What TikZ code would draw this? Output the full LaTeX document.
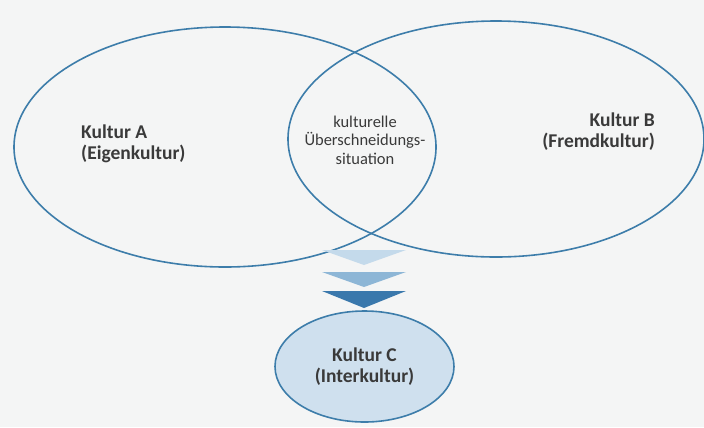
\documentclass[tikz,border=0pt]{standalone}
\usepackage{fontspec}
\setmainfont{Carlito}
\usetikzlibrary{shapes.geometric}

\definecolor{paper}{HTML}{F4F5F5}
\definecolor{vennline}{HTML}{3D7DAA}
\definecolor{arrowlight}{HTML}{C4DAEB}
\definecolor{arrowmid}{HTML}{8DB6D6}
\definecolor{arrowdark}{HTML}{3A78AC}
\definecolor{interfill}{HTML}{CFE0EE}
\definecolor{labeltext}{HTML}{3A3A3A}

\tikzset{
  culture/.style={font=\fontsize{19.5bp}{21bp}\selectfont\bfseries, text=labeltext, inner sep=0pt},
  overlap/.style={font=\fontsize{16.5bp}{18.5bp}\selectfont, text=labeltext, align=center, inner sep=0pt},
  vennring/.style={draw=vennline, line width=1.6bp}
}

\begin{document}
\begin{tikzpicture}[x=1bp,y=-1bp]
% paper
\fill[paper] (0,0) rectangle (704,427);
\useasboundingbox (0,0) rectangle (704,427);

% two cultures
\coordinate (A) at (225,147);
\coordinate (B) at (496,139);
\draw[vennring] (A) ellipse [x radius=211, y radius=120];
\draw[vennring] (B) ellipse [x radius=208, y radius=118];

\node[culture, align=left, anchor=west] (kulturA) at (81,144) {Kultur A\\(Eigenkultur)};
\node[culture, align=right, anchor=east] (kulturB) at (655,132) {Kultur B\\(Fremdkultur)};
\node[overlap] (lens) at (365,140) {kulturelle\\Überschneidungs-\\situation};

% arrows down
\foreach \col/\ytop/\yapex in {arrowlight/250/265, arrowmid/272/287, arrowdark/291/308} {
  \fill[\col] (322,\ytop) -- (406,\ytop) -- (364,\yapex) -- cycle;
}

% result
\node[ellipse, vennring, fill=interfill, culture, align=center,
      minimum width=179bp, minimum height=111bp] (kulturC) at (364.5,366.5) {Kultur C\\(Interkultur)};
\end{tikzpicture}
\end{document}
